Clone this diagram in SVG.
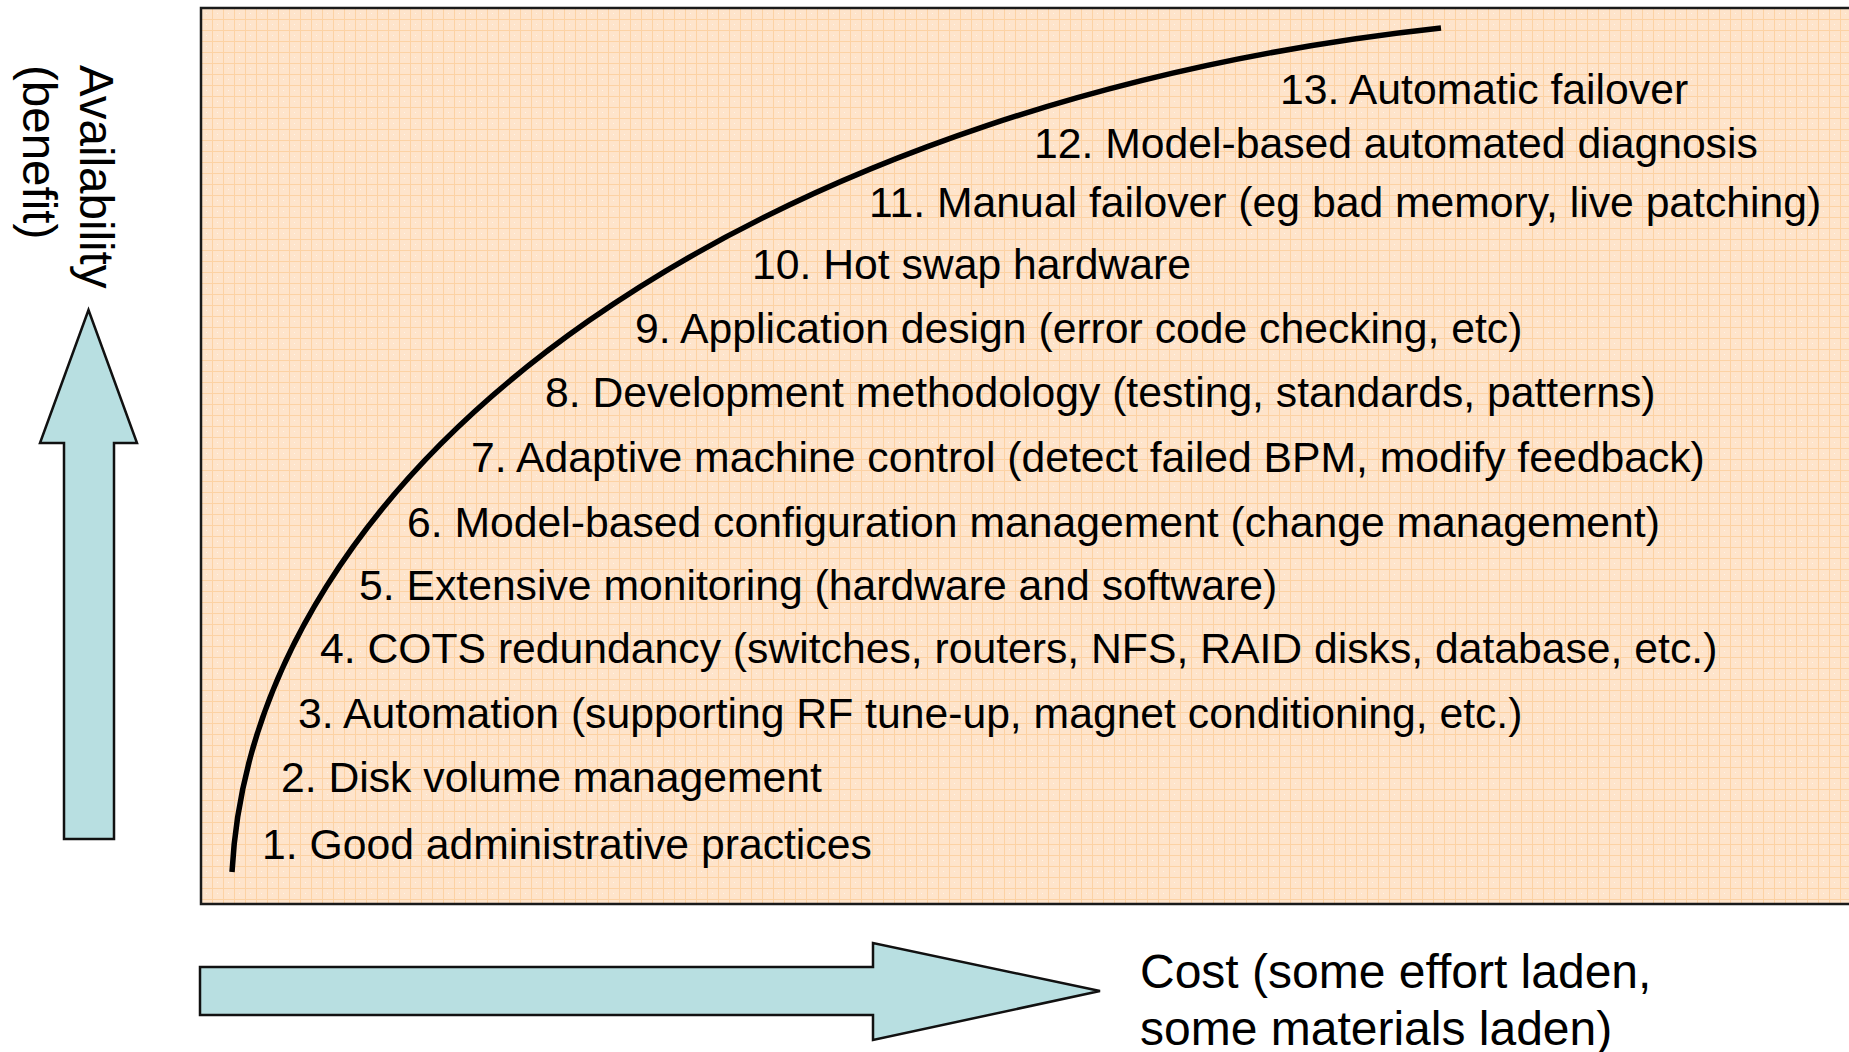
<svg xmlns="http://www.w3.org/2000/svg" width="1849" height="1052" viewBox="0 0 1849 1052">
<style>
.t{font-family:"Liberation Sans",Arial,sans-serif;font-size:42.7px;fill:#000}
.lab{font-family:"Liberation Sans",Arial,sans-serif;font-size:48px;fill:#000}
.arr{fill:#b8dfe1;stroke:#111;stroke-width:2.5;stroke-linejoin:miter}
</style>
<defs>
<pattern id="grid" x="201" y="8" width="11" height="11" patternUnits="userSpaceOnUse">
<rect width="11" height="11" fill="#fee4cb"/>
<path d="M0 0.5H11M0.5 0V11" stroke="#fcd2a4" stroke-width="1"/>
<rect x="5" y="5" width="1" height="1" fill="#fff3e6"/>
</pattern>
</defs>
<rect width="1849" height="1052" fill="#fff"/>
<g id="chart-area">
<rect x="201" y="8" width="1700" height="896" fill="url(#grid)" stroke="#1a1a1a" stroke-width="2.5"/>
</g>
<g id="connectors">
<path id="benefit-curve" d="M232 872 A1469 886 0 0 1 1441 28" fill="none" stroke="#000" stroke-width="5.5"/>
</g>
<g id="items">
<text class="t" x="262" y="859">1. Good administrative practices</text>
<text class="t" x="281" y="792">2. Disk volume management</text>
<text class="t" x="298" y="728">3. Automation (supporting RF tune-up, magnet conditioning, etc.)</text>
<text class="t" x="320" y="663">4. COTS redundancy (switches, routers, NFS, RAID disks, database, etc.)</text>
<text class="t" x="359" y="600">5. Extensive monitoring (hardware and software)</text>
<text class="t" x="407" y="537">6. Model-based configuration management (change management)</text>
<text class="t" x="471" y="472">7. Adaptive machine control (detect failed BPM, modify feedback)</text>
<text class="t" x="545" y="407">8. Development methodology (testing, standards, patterns)</text>
<text class="t" x="635" y="343">9. Application design (error code checking, etc)</text>
<text class="t" x="752" y="279">10. Hot swap hardware</text>
<text class="t" x="869" y="217">11. Manual failover (eg bad memory, live patching)</text>
<text class="t" x="1034" y="158">12. Model-based automated diagnosis</text>
<text class="t" x="1280" y="104">13. Automatic failover</text>
</g>
<g id="availability-axis">
<polygon class="arr" points="88.5,310 137,443 114,443 114,839 64,839 64,443 40,443"/>
<text class="lab" style="font-size:47.5px" transform="translate(80,65) rotate(90)"><tspan x="0" y="0">Availability</tspan><tspan x="0" y="57">(benefit)</tspan></text>
</g>
<g id="cost-axis">
<polygon class="arr" points="200,967 873,967 873,943 1100,991 873,1040 873,1015 200,1015"/>
<text class="lab" x="1140" y="988">Cost (some effort laden,</text>
<text class="lab" x="1140" y="1045">some materials laden)</text>
</g>
</svg>
